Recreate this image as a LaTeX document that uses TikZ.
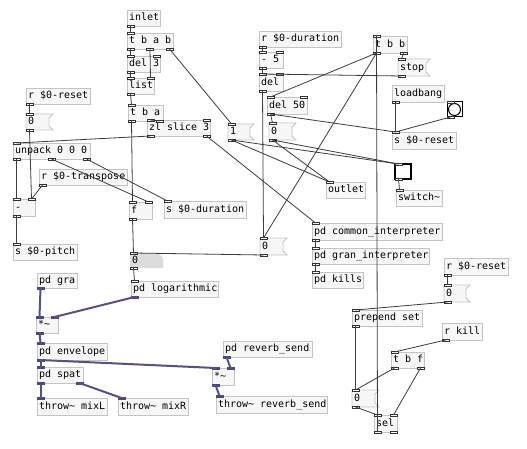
\documentclass[tikz,border=0pt]{standalone}
\usepackage{fontspec}
\setmonofont{DejaVu Sans Mono}
\usetikzlibrary{calc}
\definecolor{boxline}{HTML}{C4C4C4}
\definecolor{boxfill}{HTML}{F7F7F7}
\definecolor{sigcol}{HTML}{525285}
\definecolor{sigportc}{HTML}{4A4A7E}
\definecolor{numfill}{HTML}{DCDCDC}
\definecolor{connc}{HTML}{3C3C3C}
\tikzset{
 pdtext/.style={anchor=north west, inner xsep=2pt, inner ysep=0pt, outer sep=0pt,
   font=\ttfamily\fontsize{10}{12}\selectfont, text height=7.5pt, text depth=2pt},
 pdobjbox/.style={pdtext, draw=boxline, fill=boxfill, line width=0.8pt},
 cport/.style={draw=black!80, fill=white, line width=0.5pt},
 sport/.style={draw=sigportc, fill=sigportc, line width=0.5pt},
 conn/.style={draw=connc, line width=0.8pt},
 sig/.style={draw=sigcol, line width=2pt},
}
\newcommand\pdobj[6]{%
 \node[pdobjbox, minimum width=#4pt, minimum height=#5pt] (#1) at (#2,#3) {\makebox[\dimexpr#4pt-4pt\relax][l]{#6}};}
\newcommand\pdmsg[6]{%
 \filldraw[draw=boxline, fill=boxfill, line width=0.8pt] (#2,#3) -- ++(#4+4,0) -- ++(-4,4) -- ++(0,#5-8) -- ++(4,4) -- ++(-#4-4,0) -- cycle;
 \node[pdtext, minimum width=#4pt, minimum height=#5pt] (#1) at (#2,#3) {\makebox[\dimexpr#4pt-4pt\relax][l]{#6}};}
\newcommand\pdnum[6]{%
 \fill[numfill] (#2,#3) -- ++(#4-5,0) -- ++(5,5) -- ++(0,#5-5) -- ++(-#4,0) -- cycle;
 \node[pdtext, minimum width=#4pt, minimum height=#5pt] (#1) at (#2,#3) {\makebox[\dimexpr#4pt-4pt\relax][l]{#6}};}
\newcommand\pdio[6]{%
 \path let \p1=(#1.#5 west), \p2=(#1.#5 east) in coordinate (#1-#2#3) at ({\x1+(\x2-\x1-7pt)*(#3-1)/max(#4-1,1)+3.5pt},\y1);
 \draw[#6] ($(#1-#2#3)+(-3.5,-1.2)$) rectangle ($(#1-#2#3)+(3.5,1.2)$);}
\newcommand\ports[5]{%
 \ifnum#2>0 \foreach \k in {1,...,#2}{\pdio{#1}{i}{\k}{#2}{north}{#4}}\fi
 \ifnum#3>0 \foreach \k in {1,...,#3}{\pdio{#1}{o}{\k}{#3}{south}{#5}}\fi}
\begin{document}
\begin{tikzpicture}[x=1pt,y=-1pt]
\fill[white] (0,0) rectangle (527,449);
\useasboundingbox (0,0) rectangle (527,449);
% boxes
\pdobj{inlet}{127}{10}{33}{16}{inlet}
\pdobj{tbab}{127}{33}{46}{16}{t b a b}
\pdobj{delthree}{127}{56}{33}{16}{del 3}
\pdobj{list}{127}{78}{27}{16}{list}
\pdobj{tba}{128}{105}{35}{16}{t b a}
\pdobj{zl}{147}{120}{63}{16}{zl slice 3}
\pdobj{resetA}{26}{88}{64}{16}{r \$0-reset}
\pdmsg{msgA}{26}{114}{23}{16}{0}
\pdmsg{msgB}{228}{124}{22}{16}{1}
\pdobj{rdur}{259}{31}{82}{16}{r \$0-duration}
\pdobj{minusfive}{259}{52}{24}{16}{- 5}
\pdobj{del}{259}{74}{24}{17}{del}
\pdobj{delfifty}{267}{97}{40}{17}{del 50}
\pdmsg{msgC}{269}{123}{23}{17}{0}
\pdobj{tbb}{373}{36}{34}{17}{t b b}
\pdmsg{stop}{398}{59}{28}{17}{stop}
\pdobj{loadbang}{392}{85}{52}{17}{loadbang}
\node[pdtext, draw=black, fill=white, line width=1pt, minimum width=15pt, minimum height=15pt, inner sep=0pt] (bang) at (447,102) {};
\draw[line width=1pt] (bang.center) circle[radius=6pt];
\pdobj{sreset}{392}{132}{64}{17}{s \$0-reset}
\pdobj{unpack}{13}{143}{77}{16}{unpack 0 0 0}
\pdobj{rtrans}{39}{169}{88}{16}{r \$0-transpose}
\pdobj{minus}{13}{199}{22}{17}{-}
\pdobj{f}{129}{202}{23}{17}{f}
\pdobj{sdur}{164}{201}{82}{17}{s \$0-duration}
\pdobj{spitch}{13}{244}{64}{16}{s \$0-pitch}
\pdnum{num}{130}{253}{33}{15}{0}
\pdobj{pdgra}{37}{273}{40}{15}{pd gra}
\pdobj{pdlog}{131}{281}{87}{16}{pd logarithmic}
\pdobj{mulA}{36}{317}{22}{16}{*\textasciitilde}
\pdobj{pdenv}{37}{343}{70}{17}{pd envelope}
\pdobj{pdspat}{37}{367}{46}{16}{pd spat}
\pdobj{thrL}{37}{398}{70}{17}{throw\textasciitilde{} mixL}
\pdobj{thrR}{118}{398}{70}{17}{throw\textasciitilde{} mixR}
\pdobj{mulB}{212}{368}{22}{17}{*\textasciitilde}
\pdobj{pdrev}{223}{341}{89}{16}{pd reverb\_send}
\pdobj{thrRev}{216}{396}{111}{17}{throw\textasciitilde{} reverb\_send}
\pdobj{outlet}{326}{182}{39}{16}{outlet}
\node[pdtext, draw=black, fill=white, line width=1.2pt, minimum width=16pt, minimum height=15pt, inner sep=0pt] (toggle) at (395,164) {};
\pdobj{switch}{396}{190}{46}{16}{switch\textasciitilde}
\pdobj{pdcommon}{312}{223}{130}{17}{pd common\_interpreter}
\pdmsg{msgD}{260}{238}{23}{17}{0}
\pdobj{pdgran}{312}{248}{117}{16}{pd gran\_interpreter}
\pdobj{pdkills}{312}{272}{51}{16}{pd kills}
\pdobj{resetB}{444}{258}{64}{17}{r \$0-reset}
\pdmsg{msgE}{444}{285}{22}{17}{0}
\pdobj{prepend}{352}{310}{70}{16}{prepend set}
\pdobj{rkill}{442}{323}{40}{17}{r kill}
\pdobj{tbf}{391}{352}{33}{16}{t b f}
\pdmsg{msgF}{352}{390}{23}{17}{0}
\pdobj{sel}{374}{415}{23}{17}{sel}
% ports
\ports{inlet}{0}{1}{cport}{cport}
\ports{tbab}{1}{3}{cport}{cport}
\ports{delthree}{2}{1}{cport}{cport}
\ports{list}{2}{1}{cport}{cport}
\ports{tba}{1}{2}{cport}{cport}
\ports{zl}{2}{2}{cport}{cport}
\ports{resetA}{0}{1}{cport}{cport}
\ports{msgA}{1}{1}{cport}{cport}
\ports{msgB}{1}{1}{cport}{cport}
\ports{rdur}{0}{1}{cport}{cport}
\ports{minusfive}{2}{1}{cport}{cport}
\ports{del}{2}{1}{cport}{cport}
\ports{delfifty}{2}{1}{cport}{cport}
\ports{msgC}{1}{1}{cport}{cport}
\ports{tbb}{1}{2}{cport}{cport}
\ports{stop}{1}{1}{cport}{cport}
\ports{loadbang}{0}{1}{cport}{cport}
\ports{bang}{1}{1}{cport}{cport}
\ports{sreset}{1}{0}{cport}{cport}
\ports{unpack}{1}{3}{cport}{cport}
\ports{rtrans}{0}{1}{cport}{cport}
\ports{minus}{2}{1}{cport}{cport}
\ports{f}{2}{1}{cport}{cport}
\ports{sdur}{1}{0}{cport}{cport}
\ports{spitch}{1}{0}{cport}{cport}
\ports{num}{1}{1}{cport}{cport}
\ports{pdgra}{0}{1}{sport}{sport}
\ports{pdlog}{1}{1}{cport}{sport}
\ports{mulA}{2}{1}{sport}{sport}
\ports{pdenv}{1}{1}{sport}{sport}
\ports{pdspat}{1}{2}{sport}{sport}
\ports{thrL}{1}{0}{sport}{sport}
\ports{thrR}{1}{0}{sport}{sport}
\ports{mulB}{2}{1}{sport}{sport}
\ports{pdrev}{0}{1}{sport}{sport}
\ports{thrRev}{1}{0}{sport}{sport}
\ports{outlet}{1}{0}{cport}{cport}
\ports{toggle}{1}{1}{cport}{cport}
\ports{switch}{1}{0}{cport}{cport}
\ports{pdcommon}{1}{1}{cport}{cport}
\ports{msgD}{1}{1}{cport}{cport}
\ports{pdgran}{1}{1}{cport}{cport}
\ports{pdkills}{1}{0}{cport}{cport}
\ports{resetB}{0}{1}{cport}{cport}
\ports{msgE}{1}{1}{cport}{cport}
\ports{prepend}{1}{1}{cport}{cport}
\ports{rkill}{0}{1}{cport}{cport}
\ports{tbf}{1}{2}{cport}{cport}
\ports{msgF}{1}{1}{cport}{cport}
\ports{sel}{2}{2}{cport}{cport}
% control connections
\draw[conn] (inlet-o1) -- (tbab-i1);
\draw[conn] (tbab-o1) -- (delthree-i1);
\draw[conn] (tbab-o2) -- (list-i2);
\draw[conn] (tbab-o3) -- (msgB-i1);
\draw[conn] (delthree-o1) -- (list-i1);
\draw[conn] (list-o1) -- (tba-i1);
\draw[conn] (tba-o1) -- (f-i1);
\draw[conn] (tba-o2) -- (zl-i1);
\draw[conn] (zl-o1) -- (unpack-i1);
\draw[conn] (zl-o2) -- (pdcommon-i1);
\draw[conn] (resetA-o1) -- (msgA-i1);
\draw[conn] (msgA-o1) -- (minus-i2);
\draw[conn] (rtrans-o1) -- (minus-i2);
\draw[conn] (unpack-o1) -- (minus-i1);
\draw[conn] (unpack-o2) -- (f-i2);
\draw[conn] (unpack-o3) -- (sdur-i1);
\draw[conn] (minus-o1) -- (spitch-i1);
\draw[conn] (f-o1) -- (num-i1);
\draw[conn] (msgD-o1) -- (num-i1);
\draw[conn] (num-o1) -- (pdlog-i1);
\draw[conn] (rdur-o1) -- (minusfive-i1);
\draw[conn] (minusfive-o1) -- (del-i1);
\draw[conn] (stop-o1) -- (del-i1);
\draw[conn] (del-o1) -- (msgD-i1);
\draw[conn] (tbb-o1) -- (delfifty-i1);
\draw[conn] (tbb-o1) -- (msgD-i1);
\draw[conn] (tbb-o2) -- (stop-i1);
\draw[conn] (delfifty-o1) -- (msgC-i1);
\draw[conn] (delfifty-o1) -- (sreset-i1);
\draw[conn] (loadbang-o1) -- (sreset-i1);
\draw[conn] (bang-o1) -- (sreset-i1);
\draw[conn] (msgB-o1) -- (outlet-i1);
\draw[conn] (msgB-o1) -- (toggle-i1);
\draw[conn] (msgC-o1) -- (outlet-i1);
\draw[conn] (msgC-o1) -- (toggle-i1);
\draw[conn] (toggle-o1) -- (switch-i1);
\draw[conn] (pdcommon-o1) -- (pdgran-i1);
\draw[conn] (pdgran-o1) -- (pdkills-i1);
\draw[conn] (resetB-o1) -- (msgE-i1);
\draw[conn] (msgE-o1) -- (prepend-i1);
\draw[conn] (prepend-o1) -- (msgF-i1);
\draw[conn] (rkill-o1) -- (tbf-i1);
\draw[conn] (tbf-o1) -- (msgF-i1);
\draw[conn] (tbf-o2) -- (sel-i2);
\draw[conn] (msgF-o1) -- (sel-i1);
\draw[conn] (sel-o1) -- (tbb-i1);
% signal connections
\draw[sig] (pdgra-o1) -- (mulA-i1);
\draw[sig] (pdlog-o1) -- (mulA-i2);
\draw[sig] (mulA-o1) -- (pdenv-i1);
\draw[sig] (pdenv-o1) -- (pdspat-i1);
\draw[sig] (pdenv-o1) -- (mulB-i1);
\draw[sig] (pdrev-o1) -- (mulB-i2);
\draw[sig] (mulB-o1) -- (thrRev-i1);
\draw[sig] (pdspat-o1) -- (thrL-i1);
\draw[sig] (pdspat-o2) -- (thrR-i1);
\end{tikzpicture}
\end{document}
